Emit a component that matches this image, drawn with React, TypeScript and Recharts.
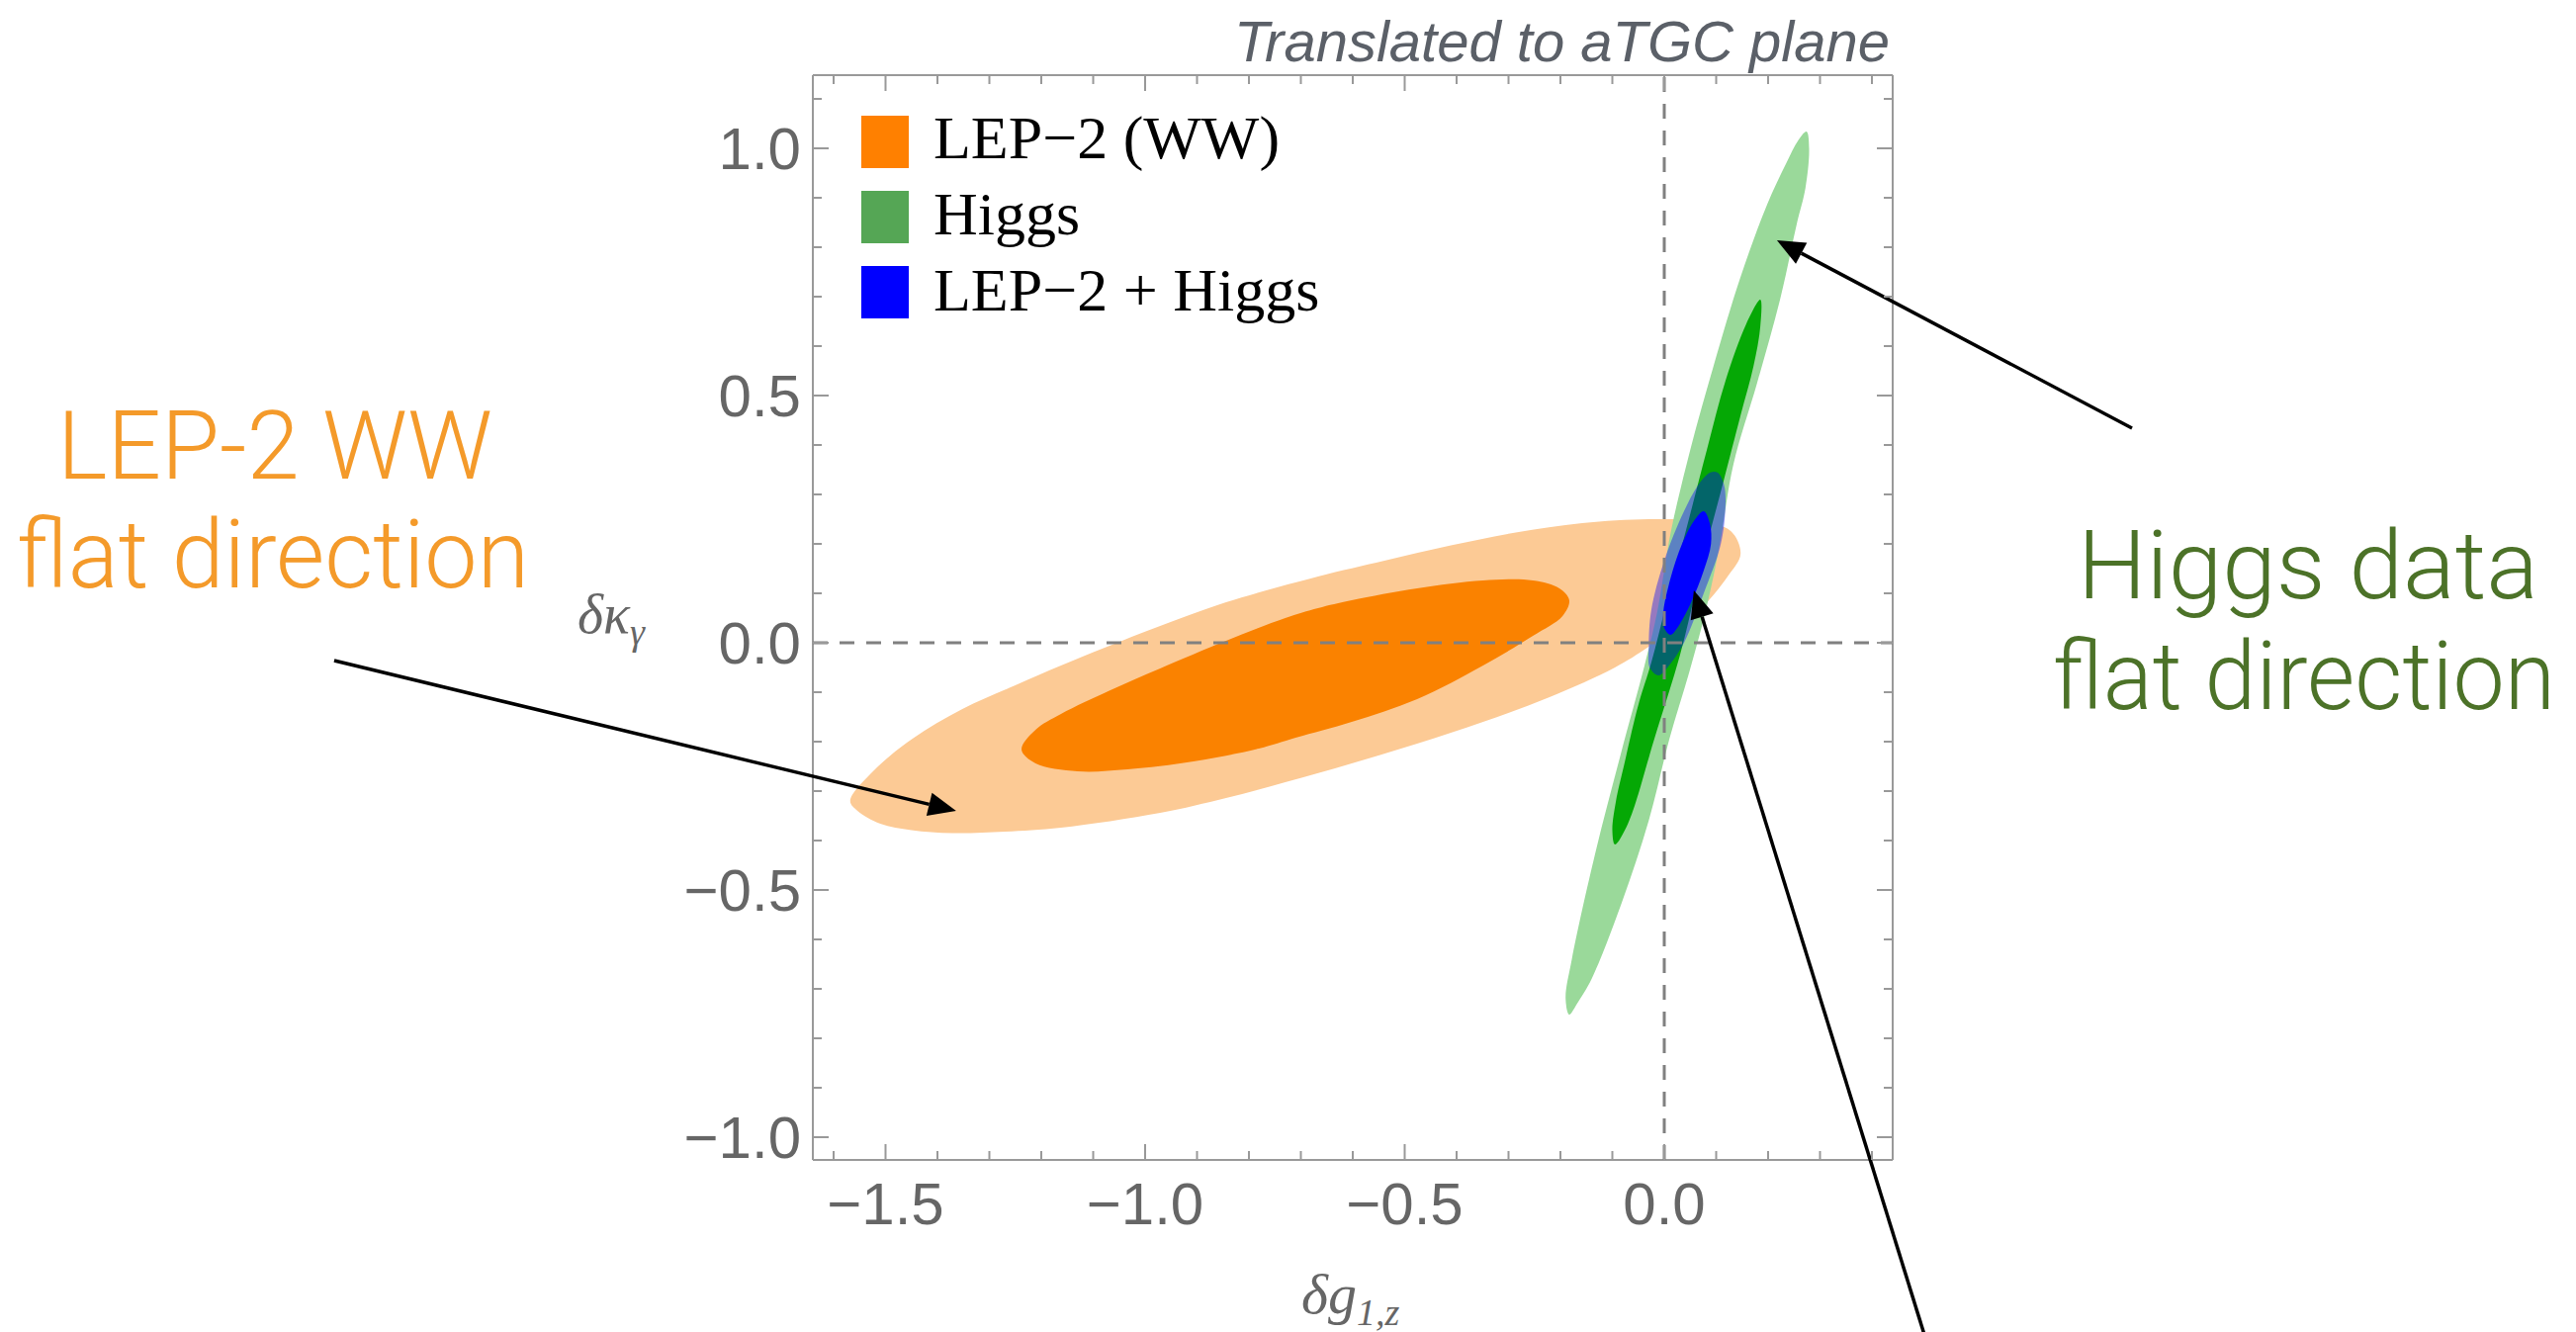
import { Legend, ReferenceLine, Scatter, ScatterChart, XAxis, YAxis } from 'recharts';

// axis ranges and ticks (minor every 0.1, labels on multiples of 0.5)
const xDomain = [-1.64, 0.44];
const yDomain = [-1.046, 1.148];
const xTicks = [-1.6, -1.5, -1.4, -1.3, -1.2, -1.1, -1.0, -0.9, -0.8, -0.7, -0.6, -0.5, -0.4, -0.3, -0.2, -0.1, 0, 0.1, 0.2, 0.3, 0.4];
const yTicks = [-1.0, -0.9, -0.8, -0.7, -0.6, -0.5, -0.4, -0.3, -0.2, -0.1, 0, 0.1, 0.2, 0.3, 0.4, 0.5, 0.6, 0.7, 0.8, 0.9, 1.0, 1.1];

// contour outlines (δg1,z, δκγ)
const lepOuter = [
  { x: 0.147, y: 0.18 }, { x: 0.128, y: 0.226 }, { x: 0.065, y: 0.246 }, { x: -0.03, y: 0.25 },
  { x: -0.158, y: 0.242 }, { x: -0.286, y: 0.223 }, { x: -0.411, y: 0.197 }, { x: -0.539, y: 0.166 },
  { x: -0.667, y: 0.134 }, { x: -0.844, y: 0.082 }, { x: -0.971, y: 0.034 }, { x: -1.078, y: -0.01 },
  { x: -1.162, y: -0.046 }, { x: -1.25, y: -0.086 }, { x: -1.352, y: -0.134 }, { x: -1.448, y: -0.194 },
  { x: -1.524, y: -0.26 }, { x: -1.568, y: -0.32 }, { x: -1.554, y: -0.34 }, { x: -1.51, y: -0.366 },
  { x: -1.45, y: -0.379 }, { x: -1.371, y: -0.385 }, { x: -1.27, y: -0.382 }, { x: -1.162, y: -0.374 },
  { x: -0.971, y: -0.344 }, { x: -0.844, y: -0.314 }, { x: -0.73, y: -0.282 }, { x: -0.602, y: -0.244 },
  { x: -0.476, y: -0.204 }, { x: -0.349, y: -0.16 }, { x: -0.221, y: -0.11 }, { x: -0.095, y: -0.05 },
  { x: -0.03, y: -0.008 }, { x: 0.065, y: 0.064 }, { x: 0.122, y: 0.134 },
];
const lepInner = [
  { x: -0.183, y: 0.086 }, { x: -0.202, y: 0.11 }, { x: -0.253, y: 0.126 }, { x: -0.349, y: 0.126 },
  { x: -0.476, y: 0.11 }, { x: -0.602, y: 0.086 }, { x: -0.667, y: 0.07 }, { x: -0.73, y: 0.05 },
  { x: -0.844, y: 0.004 }, { x: -0.971, y: -0.052 }, { x: -1.067, y: -0.096 }, { x: -1.162, y: -0.144 },
  { x: -1.211, y: -0.176 }, { x: -1.238, y: -0.216 }, { x: -1.211, y: -0.244 }, { x: -1.13, y: -0.26 },
  { x: -1.034, y: -0.256 }, { x: -0.907, y: -0.24 }, { x: -0.781, y: -0.214 }, { x: -0.71, y: -0.192 },
  { x: -0.602, y: -0.16 }, { x: -0.476, y: -0.114 }, { x: -0.349, y: -0.046 }, { x: -0.253, y: 0.014 },
  { x: -0.196, y: 0.054 },
];
const higgsOuter = [
  { x: 0.274, y: 1.034 }, { x: 0.279, y: 1.0 }, { x: 0.272, y: 0.92 }, { x: 0.255, y: 0.846 },
  { x: 0.223, y: 0.694 }, { x: 0.179, y: 0.526 }, { x: 0.133, y: 0.36 }, { x: 0.107, y: 0.2 },
  { x: 0.082, y: 0.074 }, { x: 0.048, y: -0.06 }, { x: 0.01, y: -0.194 }, { x: -0.03, y: -0.36 },
  { x: -0.082, y: -0.526 }, { x: -0.14, y: -0.68 }, { x: -0.168, y: -0.73 }, { x: -0.183, y: -0.752 },
  { x: -0.19, y: -0.72 }, { x: -0.178, y: -0.64 }, { x: -0.133, y: -0.426 }, { x: -0.084, y: -0.226 },
  { x: -0.038, y: -0.046 }, { x: -0.014, y: 0.06 }, { x: 0.013, y: 0.226 }, { x: 0.051, y: 0.394 },
  { x: 0.095, y: 0.56 }, { x: 0.147, y: 0.74 }, { x: 0.198, y: 0.886 }, { x: 0.235, y: 0.97 },
  { x: 0.258, y: 1.016 },
];
const higgsInner = [
  { x: 0.185, y: 0.694 }, { x: 0.185, y: 0.64 }, { x: 0.172, y: 0.56 }, { x: 0.147, y: 0.46 },
  { x: 0.114, y: 0.326 }, { x: 0.08, y: 0.19 }, { x: 0.055, y: 0.08 }, { x: 0.03, y: -0.026 },
  { x: -0.019, y: -0.194 }, { x: -0.07, y: -0.366 }, { x: -0.095, y: -0.408 }, { x: -0.1, y: -0.38 },
  { x: -0.093, y: -0.32 }, { x: -0.078, y: -0.25 }, { x: -0.05, y: -0.126 }, { x: -0.025, y: -0.04 },
  { x: 0.002, y: 0.07 }, { x: 0.04, y: 0.22 }, { x: 0.082, y: 0.39 }, { x: 0.118, y: 0.53 },
  { x: 0.158, y: 0.645 },
];
const comboOuter = [
  { x: 0.103, y: 0.344 }, { x: 0.115, y: 0.32 }, { x: 0.118, y: 0.28 }, { x: 0.109, y: 0.2 },
  { x: 0.076, y: 0.1 }, { x: 0.038, y: 0.0 }, { x: 0.01, y: -0.045 }, { x: -0.011, y: -0.066 },
  { x: -0.028, y: -0.05 }, { x: -0.03, y: -0.01 }, { x: -0.025, y: 0.066 }, { x: 0.0, y: 0.166 },
  { x: 0.038, y: 0.266 }, { x: 0.07, y: 0.326 }, { x: 0.09, y: 0.345 },
];
const comboInner = [
  { x: 0.076, y: 0.266 }, { x: 0.088, y: 0.24 }, { x: 0.09, y: 0.2 }, { x: 0.076, y: 0.146 },
  { x: 0.051, y: 0.08 }, { x: 0.025, y: 0.03 }, { x: 0.012, y: 0.016 }, { x: 0.0, y: 0.03 },
  { x: -0.002, y: 0.06 }, { x: 0.008, y: 0.114 }, { x: 0.032, y: 0.194 }, { x: 0.057, y: 0.246 },
];

// annotation arrows, tail -> tip, in data units
const arrows = [
  { from: { x: -2.562, y: -0.036 }, to: { x: -1.364, y: -0.34 } },
  { from: { x: 0.901, y: 0.434 }, to: { x: 0.217, y: 0.814 } },
  { from: { x: 0.51, y: -1.43 }, to: { x: 0.057, y: 0.106 } },
];

const legendLabels = ['LEP\u22122 (WW)', 'Higgs', 'LEP\u22122 + Higgs'];
const legendColours = ['#ff8000', '#55a655', '#0000ff'];

const LIGHT_ORANGE = '#fcca95';
const DARK_ORANGE = '#fa8200';
const LIGHT_GREEN = '#9ad99a';
const DARK_GREEN = '#05a805';
const BLUE = '#0000ff';
const FRAME = '#999999';
const LABEL_GREY = '#666666';

// closed centripetal catmull-rom through the projected points
function closedPath(pts: { x: number; y: number }[]) {
  const n = pts.length;
  if (!n) return '';
  const dist = (a: any, b: any) => Math.sqrt(Math.hypot(b.x - a.x, b.y - a.y));
  let d = `M${pts[0].x},${pts[0].y}`;
  for (let i = 0; i < n; i++) {
    const p0 = pts[(i - 1 + n) % n];
    const p1 = pts[i];
    const p2 = pts[(i + 1) % n];
    const p3 = pts[(i + 2) % n];
    const l01 = dist(p0, p1);
    const l12 = dist(p1, p2);
    const l23 = dist(p2, p3);
    let c1x = p1.x;
    let c1y = p1.y;
    let c2x = p2.x;
    let c2y = p2.y;
    if (l01 > 1e-6) {
      const a = 2 * l01 * l01 + 3 * l01 * l12 + l12 * l12;
      const m = 3 * l01 * (l01 + l12);
      c1x = (p1.x * a - p0.x * l12 * l12 + p2.x * l01 * l01) / m;
      c1y = (p1.y * a - p0.y * l12 * l12 + p2.y * l01 * l01) / m;
    }
    if (l23 > 1e-6) {
      const b = 2 * l23 * l23 + 3 * l23 * l12 + l12 * l12;
      const m = 3 * l23 * (l23 + l12);
      c2x = (p2.x * b + p1.x * l23 * l23 - p3.x * l12 * l12) / m;
      c2y = (p2.y * b + p1.y * l23 * l23 - p3.y * l12 * l12) / m;
    }
    d += ` C${c1x},${c1y} ${c2x},${c2y} ${p2.x},${p2.y}`;
  }
  return d + 'Z';
}

const blob = (fill: string, opacity = 1) => (p: any) => (
  <path d={closedPath(p.points || [])} fill={fill} fillOpacity={opacity} stroke="none" />
);
const noDot = () => <g />;

const isMajor = (v: number) => Math.abs(v * 2 - Math.round(v * 2)) < 1e-6;
const fmt = (v: number) => (v < -1e-9 ? '\u2212' : '') + Math.abs(v).toFixed(1);

function BottomTick({ x, y, payload }: any) {
  const major = isMajor(payload.value);
  return (
    <g>
      <line x1={x} y1={y} x2={x} y2={y - (major ? 16 : 9)} stroke={FRAME} strokeWidth={2} />
      {major && (
        <text x={x} y={y + 65} textAnchor="middle" fontFamily="Liberation Sans" fontSize={60} fill={LABEL_GREY}>
          {fmt(payload.value)}
        </text>
      )}
    </g>
  );
}
function TopTick({ x, y, payload }: any) {
  const major = isMajor(payload.value);
  return <line x1={x} y1={y} x2={x} y2={y + (major ? 16 : 9)} stroke={FRAME} strokeWidth={2} />;
}
function LeftTick({ x, y, payload }: any) {
  const major = isMajor(payload.value);
  return (
    <g>
      <line x1={x} y1={y} x2={x + (major ? 16 : 9)} y2={y} stroke={FRAME} strokeWidth={2} />
      {major && (
        <text x={x - 12} y={y + 21} textAnchor="end" fontFamily="Liberation Sans" fontSize={60} fill={LABEL_GREY}>
          {fmt(payload.value)}
        </text>
      )}
    </g>
  );
}
function RightTick({ x, y, payload }: any) {
  const major = isMajor(payload.value);
  return <line x1={x} y1={y} x2={x - (major ? 16 : 9)} y2={y} stroke={FRAME} strokeWidth={2} />;
}

function ArrowShape({ x1, y1, x2, y2 }: any) {
  const a = Math.atan2(y2 - y1, x2 - x1);
  const len = 28;
  const half = 12;
  const bx = x2 - len * Math.cos(a);
  const by = y2 - len * Math.sin(a);
  const px = -Math.sin(a) * half;
  const py = Math.cos(a) * half;
  return (
    <g>
      <line x1={x1} y1={y1} x2={bx} y2={by} stroke="#000" strokeWidth={3.5} />
      <polygon points={`${x2},${y2} ${bx + px},${by + py} ${bx - px},${by - py}`} fill="#000" />
    </g>
  );
}

function LegendBox() {
  return (
    <svg width={600} height={250} style={{ overflow: 'visible' }}>
      {legendLabels.map((label, i) => (
        <g key={label}>
          <rect x={11} y={19 + i * 76} width={48} height={53} fill={legendColours[i]} />
          <text x={84} y={62 + i * 77} fontFamily="Liberation Serif" fontSize={62} fill="#000">
            {label}
          </text>
        </g>
      ))}
    </svg>
  );
}

const axisLine = { stroke: FRAME, strokeWidth: 2 };

export default function App() {
  return (
    <div style={{ position: 'absolute', left: 0, top: 0, width: 2605, height: 1347, background: '#fff' }}>
      <ScatterChart width={2605} height={1347} margin={{ top: 66, right: 681, bottom: 74, left: 672 }}>
        <XAxis type="number" dataKey="x" domain={xDomain} ticks={xTicks} interval={0} allowDataOverflow
          height={100} axisLine={axisLine} tickLine={false} tickSize={0} tickMargin={0} tick={<BottomTick />} />
        <XAxis xAxisId="top" orientation="top" type="number" dataKey="x" domain={xDomain} ticks={xTicks} interval={0}
          allowDataOverflow height={10} axisLine={axisLine} tickLine={false} tickSize={0} tickMargin={0} tick={<TopTick />} />
        <YAxis type="number" dataKey="y" domain={yDomain} ticks={yTicks} interval={0} allowDataOverflow
          width={150} axisLine={axisLine} tickLine={false} tickSize={0} tickMargin={0} tick={<LeftTick />} />
        <YAxis yAxisId="right" orientation="right" type="number" dataKey="y" domain={yDomain} ticks={yTicks} interval={0}
          allowDataOverflow width={10} axisLine={axisLine} tickLine={false} tickSize={0} tickMargin={0} tick={<RightTick />} />

        <Scatter data={lepOuter} line={blob(LIGHT_ORANGE)} shape={noDot} legendType="none" isAnimationActive={false} />
        <Scatter data={lepInner} line={blob(DARK_ORANGE)} shape={noDot} legendType="none" isAnimationActive={false} />
        <Scatter data={higgsOuter} line={blob(LIGHT_GREEN)} shape={noDot} legendType="none" isAnimationActive={false} />
        <Scatter data={higgsInner} line={blob(DARK_GREEN)} shape={noDot} legendType="none" isAnimationActive={false} />
        <Scatter data={comboOuter} line={blob(BLUE, 0.4)} shape={noDot} legendType="none" isAnimationActive={false} />
        <Scatter data={comboInner} line={blob(BLUE)} shape={noDot} legendType="none" isAnimationActive={false} />

        <ReferenceLine x={0} stroke="#808080" strokeWidth={3} strokeDasharray="15 12" zIndex={650} />
        <ReferenceLine y={0} stroke="#808080" strokeWidth={3} strokeDasharray="15 12" zIndex={650} />
        {arrows.map((a, i) => (
          <ReferenceLine key={i} segment={[a.from, a.to]} ifOverflow="visible" shape={ArrowShape} zIndex={700} />
        ))}

        <Legend layout="vertical" align="center" verticalAlign="middle" content={<LegendBox />}
          wrapperStyle={{ position: 'absolute', left: 860, top: 98, width: 600, height: 250 }} />
      </ScatterChart>

      <svg width={2605} height={1347} style={{ position: 'absolute', left: 0, top: 0, pointerEvents: 'none' }}>
        <text x={1911} y={62} textAnchor="end" fontFamily="Liberation Sans" fontStyle="italic" fontSize={58} fill="#5b6068">
          Translated to aTGC plane
        </text>
        <text x={584} y={640} fontFamily="Liberation Serif" fontStyle="italic" fontSize={56} fill={LABEL_GREY}>
          δκ<tspan fontSize={38} dy={12}>γ</tspan>
        </text>
        <text x={1316} y={1328} fontFamily="Liberation Serif" fontStyle="italic" fontSize={58} fill={LABEL_GREY}>
          δg<tspan fontSize={38} dy={12}>1,z</tspan>
        </text>
        <g fontFamily="Roboto" fontWeight={300} fontSize={96}>
          <text x={278} y={484} textAnchor="middle" fill="#f49a2a" textLength={440} lengthAdjust="spacingAndGlyphs">LEP-2 WW</text>
          <text x={276} y={594} textAnchor="middle" fill="#f49a2a" textLength={518} lengthAdjust="spacingAndGlyphs">flat direction</text>
          <text x={2334} y={605} textAnchor="middle" fill="#4c7228" textLength={466} lengthAdjust="spacingAndGlyphs">Higgs data</text>
          <text x={2330} y={717} textAnchor="middle" fill="#4c7228" textLength={508} lengthAdjust="spacingAndGlyphs">flat direction</text>
        </g>
      </svg>
    </div>
  );
}
